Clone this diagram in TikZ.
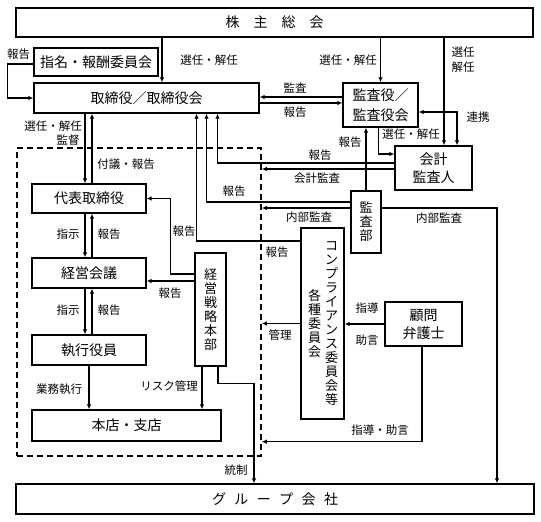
\documentclass[tikz,border=0pt]{standalone}
\usepackage{fontspec}
\setmainfont{Noto Sans CJK JP}
\usetikzlibrary{arrows.meta}

\begin{document}
\begin{tikzpicture}[x=1pt,y=-1pt,
    box/.style={draw,line width=1.3pt,inner sep=0pt,align=center,font=\fontsize{14}{18}\selectfont},
    tate/.style={inner sep=0pt,align=center,font=\fontsize{13}{14}\selectfont},
    lbl/.style={inner sep=0pt,align=center,font=\fontsize{11.5}{15}\selectfont},
    ln/.style={line width=1.2pt},
    arr/.style={ln,-{Latex[length=5pt,width=4.5pt]}}]
  \useasboundingbox (0,0) rectangle (541,522);

  \node[box,minimum width=517,minimum height=29] (soukai) at (274.5,22.5) {株\hspace{1em}主\hspace{1em}総\hspace{1em}会};
  \node[box,minimum width=124,minimum height=28] (shimei) at (96,62) {指名・報酬委員会};
  \node[box,minimum width=225,minimum height=30] (torishimari) at (146.5,98) {取締役／取締役会};
  \node[box,minimum width=75,minimum height=44,font=\fontsize{14}{20}\selectfont] (kansayaku) at (380.5,105) {監査役／\\監査役会};
  \node[box,minimum width=77,minimum height=44] (kaikei) at (433.5,168) {会計\\監査人};
  \node[box,minimum width=30,minimum height=62,font=\fontsize{13}{14}\selectfont] (kansabu) at (366,222) {監\\査\\部};
  \node[draw,line width=1.5pt,dash pattern=on 6pt off 4pt,inner sep=0pt,minimum width=244,minimum height=308] (shikkobu) at (139,302) {};
  \node[box,minimum width=114,minimum height=29] (daihyo) at (89,198.5) {代表取締役};
  \node[box,minimum width=114,minimum height=30] (keiei) at (89,273) {経営会議};
  \node[box,minimum width=114,minimum height=30] (shikko) at (89,350) {執行役員};
  \node[box,minimum width=189,minimum height=31] (honten) at (126.5,425.5) {本店・支店};
  \node[box,minimum width=31,minimum height=113,font=\fontsize{13}{14}\selectfont] (senryaku) at (210.5,309.5) {経\\営\\戦\\略\\本\\部};
  \node[box,minimum width=43,minimum height=191] (comp) at (322.5,323.5) {};
  \node[tate] (comp1) at (331.5,324) {コ\\ン\\プ\\ラ\\イ\\ア\\ン\\ス\\委\\員\\会\\等};
  \node[tate] (comp2) at (314.5,323.5) {各\\種\\委\\員\\会};
  \node[box,minimum width=77,minimum height=44] (komon) at (423.5,324) {顧問\\弁護士};
  \node[box,minimum width=518,minimum height=30] (group) at (275,499) {グ\hspace{0.6em}ル\hspace{0.6em}ー\hspace{0.6em}プ\hspace{0.6em}会\hspace{0.6em}社};

  \node[lbl] (lshimei) at (18.5,54.5) {報告};
  \node[lbl] (lsenn1) at (209,60) {選任・解任};
  \node[lbl] (lsenn2) at (348,60) {選任・解任};
  \node[lbl] (lsenn3) at (463,60) {選任\\解任};
  \node[lbl] (lkansa) at (295,88) {監査};
  \node[lbl] (lhoukoku1) at (295,112) {報告};
  \node[lbl] (lrenkei) at (478,117) {連携};
  \node[lbl] (lsenn4) at (411,134) {選任・解任};
  \node[lbl] (lhoukoku2) at (350,142) {報告};
  \node[lbl] (lsenn5) at (53,126) {選任・解任};
  \node[lbl] (lkantoku) at (68,140) {監督};
  \node[lbl] (lfugi) at (126,164) {付議・報告};
  \node[lbl] (lhoukoku3) at (320,155) {報告};
  \node[lbl] (lkaikeikansa) at (317,178) {会計監査};
  \node[lbl] (lhoukoku4) at (234,191) {報告};
  \node[lbl] (lnaibu1) at (309,217) {内部監査};
  \node[lbl] (lnaibu2) at (439,218) {内部監査};
  \node[lbl] (lhoukoku5) at (184,231) {報告};
  \node[lbl] (lhoukoku6) at (277,252) {報告};
  \node[lbl] (lshiji1) at (68,234) {指示};
  \node[lbl] (lhoukoku7) at (109,234) {報告};
  \node[lbl] (lshiji2) at (68,310) {指示};
  \node[lbl] (lhoukoku8) at (109,310) {報告};
  \node[lbl] (lhoukoku9) at (170,293) {報告};
  \node[lbl] (lkanri) at (280,335) {管理};
  \node[lbl] (lshidou) at (367,308) {指導};
  \node[lbl] (ljogen) at (367,340) {助言};
  \node[lbl] (lgyomu) at (59,389) {業務執行};
  \node[lbl] (lrisk) at (169,386) {リスク管理};
  \node[lbl] (lshidoujogen) at (380,430) {指導・助言};
  \node[lbl] (ltousei) at (236,470) {統制};

  \draw[arr] ([yshift=-2pt]shimei.west) -- ++(-26,0) |- (torishimari.west);
  \draw[arr] ([xshift=15.5pt]torishimari.north |- soukai.south) -- ([xshift=15.5pt]torishimari.north);
  \draw[arr] (kansayaku.north |- soukai.south) -- (kansayaku.north);
  \draw[arr] ([xshift=10.5pt]kaikei.north |- soukai.south) -- ([xshift=10.5pt]kaikei.north);
  \draw[ln,{Latex[length=5pt,width=4.5pt]}-{Latex[length=5pt,width=4.5pt]}] ([yshift=-7pt]kansayaku.east) -| ([xshift=23.5pt]kaikei.north);
  \draw[arr] ([xshift=-2pt]kansayaku.south) |- ([yshift=14pt]kaikei.west);
  \draw[arr] ([yshift=8pt]kansayaku.west) -- ([yshift=8pt]kansayaku.west -| torishimari.east);
  \draw[arr] ([yshift=-5pt]torishimari.east) -- ([yshift=-5pt]torishimari.east -| kansayaku.west);
  \draw[arr] (kansabu.north) -- (kansabu.north |- kansayaku.south);
  \draw[arr] ([yshift=5pt]kaikei.west) -| ([xshift=71pt]torishimari.south);
  \draw[arr] ([yshift=-1pt]kaikei.west) -- ([yshift=-1pt]kaikei.west -| shikkobu.east);
  \draw[arr] ([yshift=20pt]kansabu.west) -| ([xshift=60pt]torishimari.south);
  \draw[arr] ([yshift=14pt]kansabu.west) -- ([yshift=14pt]kansabu.west -| shikkobu.east);
  \draw[arr] ([yshift=14pt]kansabu.east) -| ([xshift=222pt]group.north);
  \draw[arr] ([yshift=82.5pt]comp.west) -| ([xshift=50pt]torishimari.south);
  \draw[arr] ([xshift=-4pt]daihyo.north |- torishimari.south) -- ([xshift=-4pt]daihyo.north);
  \draw[arr] ([xshift=3pt]daihyo.north) -- ([xshift=3pt]daihyo.north |- torishimari.south);
  \draw[arr] ([xshift=-4pt]daihyo.south) -- ([xshift=-4pt]keiei.north);
  \draw[arr] ([xshift=3pt]keiei.north) -- ([xshift=3pt]daihyo.south);
  \draw[arr] ([xshift=-4pt]keiei.south) -- ([xshift=-4pt]shikko.north);
  \draw[arr] ([xshift=3pt]shikko.north) -- ([xshift=3pt]keiei.south);
  \draw[arr] (shikko.south) -- (shikko.south |- honten.north);
  \draw[arr] ([yshift=35.5pt]senryaku.west) -| ([xshift=24pt]daihyo.east) -- (daihyo.east);
  \draw[arr] ([yshift=28.5pt]senryaku.west) -- ([yshift=28.5pt]senryaku.west -| keiei.east);
  \draw[arr] ([xshift=-8.5pt]senryaku.south) -- ([xshift=-8.5pt]senryaku.south |- honten.north);
  \draw[arr] ([xshift=7.5pt]senryaku.south) -- ++(0,17) -| ([xshift=-21pt]group.north);
  \draw[arr] (komon.west) -- (komon.west -| comp.east);
  \draw[arr] (comp.west) -- (comp.west -| shikkobu.east);
  \draw[arr] ([xshift=-1.5pt]komon.south) |- (shikkobu.east |- honten.south);
\end{tikzpicture}
\end{document}
